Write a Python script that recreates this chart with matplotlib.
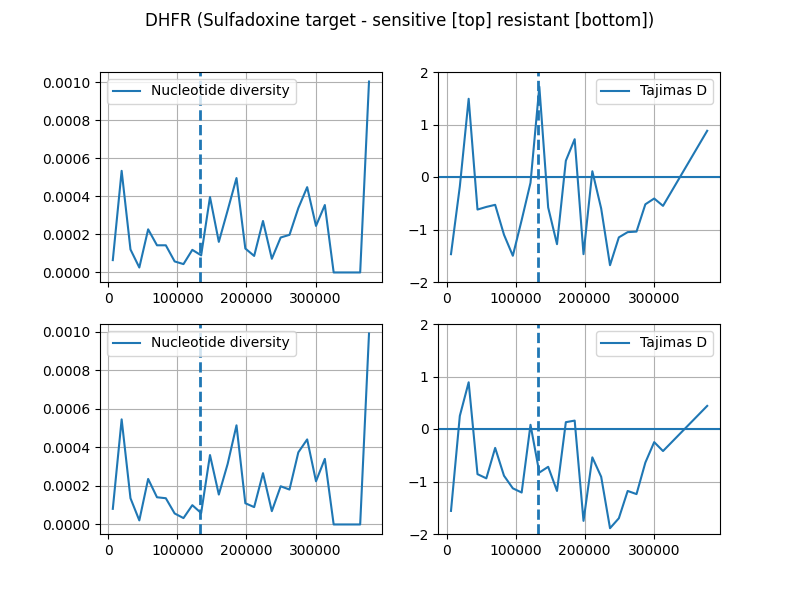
import numpy as np
import matplotlib
matplotlib.use("Agg")
import matplotlib.pyplot as plt

# posiciones de las ventanas (centro)
pos = [6300, 19100, 31900, 44700, 57500, 70300, 83100, 95900, 108700, 121500,
       134300, 147100, 159900, 172700, 185500, 198300, 211100, 223900, 236700, 249500,
       262300, 275100, 287900, 300700, 313500, 326300, 339100, 351900, 364700, 377500]

pi_sens = [6.5e-5, 5.35e-4, 1.21e-4, 2.6e-5, 2.27e-4, 1.43e-4, 1.43e-4, 5.8e-5, 4.4e-5, 1.19e-4,
           9.0e-5, 3.97e-4, 1.61e-4, 3.27e-4, 4.97e-4, 1.26e-4, 8.7e-5, 2.71e-4, 7.2e-5, 1.84e-4,
           1.98e-4, 3.39e-4, 4.49e-4, 2.45e-4, 3.55e-4, 0.0, 0.0, 0.0, 0.0, 1.005e-3]

pi_res = [8.1e-5, 5.45e-4, 1.36e-4, 2.1e-5, 2.36e-4, 1.41e-4, 1.36e-4, 5.7e-5, 3.3e-5, 1.0e-4,
          5.9e-5, 3.6e-4, 1.55e-4, 3.14e-4, 5.14e-4, 1.1e-4, 9.0e-5, 2.66e-4, 6.9e-5, 1.98e-4,
          1.81e-4, 3.74e-4, 4.41e-4, 2.24e-4, 3.4e-4, 0.0, 0.0, 0.0, 0.0, 9.9e-4]

nan = np.nan
taj_sens = [-1.47, -0.18, 1.49, -0.62, -0.57, -0.53, -1.1, -1.5, -0.82, -0.11,
            1.72, -0.58, -1.28, 0.31, 0.72, -1.47, 0.11, -0.6, -1.68, -1.15,
            -1.05, -1.04, -0.52, -0.41, -0.55, nan, nan, nan, nan, 0.88]

taj_res = [-1.56, 0.25, 0.89, -0.86, -0.94, -0.36, -0.89, -1.13, -1.21, 0.08,
           -0.83, -0.72, -1.18, 0.13, 0.16, -1.75, -0.54, -0.91, -1.89, -1.7,
           -1.18, -1.24, -0.64, -0.25, -0.42, nan, nan, nan, nan, 0.44]

gene_pos = 133000  # posición de DHFR

fig, axes = plt.subplots(2, 2, figsize=(8, 6))
fig.suptitle('DHFR (Sulfadoxine target - sensitive [top] resistant [bottom])')

x = np.array(pos)
for row, (pi, taj) in enumerate([(pi_sens, taj_sens), (pi_res, taj_res)]):
    ax = axes[row, 0]
    ax.plot(x, pi, label='Nucleotide diversity')
    ax.axvline(gene_pos, linestyle='--', linewidth=2)
    ax.grid(True)
    ax.legend(loc='upper left')

    ax = axes[row, 1]
    taj = np.array(taj)
    ok = np.isfinite(taj)
    ax.plot(x[ok], taj[ok], label='Tajimas D')
    ax.axhline(0)
    ax.axvline(gene_pos, linestyle='--', linewidth=2)
    ax.set_ylim(-2, 2)
    ax.set_yticks([-2, -1, 0, 1, 2])
    ax.grid(True)
    ax.legend(loc='upper right')

plt.savefig('out.png', dpi=100)
